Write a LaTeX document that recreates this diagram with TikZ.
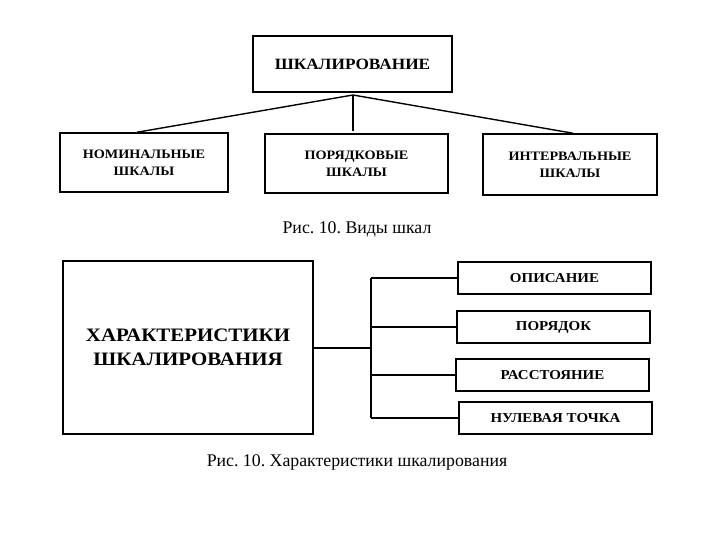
\documentclass[tikz,border=0pt]{standalone}
\usepackage{fontspec}
\setmainfont{Liberation Serif}
\newfontfamily\widebf[FakeStretch=1.1]{Liberation Serif}
\frenchspacing

\begin{document}
\begin{tikzpicture}[x=1pt, y=-1pt,
    box/.style={rectangle, draw, line width=1.5pt, align=center, inner sep=0pt, font=\widebf\bfseries\fontsize{12.9}{17}\selectfont},
    item/.style={box, minimum width=193pt, minimum height=32pt, font=\widebf\bfseries\fontsize{13.6}{16}\selectfont},
    caption/.style={font=\fontsize{17.8}{20}\selectfont},
    link/.style={line width=1.4pt}]

    \useasboundingbox (0,0) rectangle (720,540);

    % Виды шкал
    \node[box, minimum width=199pt, minimum height=56pt, font=\widebf\bfseries\fontsize{15.7}{18}\selectfont] (scal) at (352.5,64) {ШКАЛИРОВАНИЕ};
    \node[box, minimum width=168pt, minimum height=59pt] (nom) at (144,162.5) {НОМИНАЛЬНЫЕ\\ШКАЛЫ};
    \node[box, minimum width=183pt, minimum height=59pt] (ord) at (356.5,163.5) {ПОРЯДКОВЫЕ\\ШКАЛЫ};
    \node[box, minimum width=174pt, minimum height=61pt] (int) at (570,164.5) {ИНТЕРВАЛЬНЫЕ\\ШКАЛЫ};
    \coordinate (hub) at (353,95);

    \draw[link] (hub) -- ([xshift=-7pt]nom.north);
    \draw[link] (hub) -- ([yshift=2pt]ord.north -| hub);
    \draw[link] (hub) -- ([xshift=3pt]int.north);

    \node[caption] (cap1) at (357,229) {Рис. 10. Виды шкал};

    % Характеристики шкалирования
    \node[box, minimum width=250pt, minimum height=173pt, font=\widebf\bfseries\fontsize{19}{24}\selectfont] (char) at (188,347.5) {ХАРАКТЕРИСТИКИ\\ШКАЛИРОВАНИЯ};
    \node[item] (desc) at (554.5,278) {ОПИСАНИЕ};
    \node[item] (order) at (553.5,327) {ПОРЯДОК};
    \node[item] (dist) at (552.5,375) {РАССТОЯНИЕ};
    \node[item] (zero) at (555.5,418) {НУЛЕВАЯ ТОЧКА};
    \coordinate (bus) at (371,348);

    \draw[link] (char.east |- bus) -- (bus);
    \draw[link] (bus |- desc.west) -- (bus |- zero.west);
    \foreach \b in {desc,order,dist,zero}
        \draw[link] (bus |- \b.west) -- (\b.west);

    \node[caption] (cap2) at (357,462) {Рис. 10. Характеристики шкалирования};

\end{tikzpicture}
\end{document}
